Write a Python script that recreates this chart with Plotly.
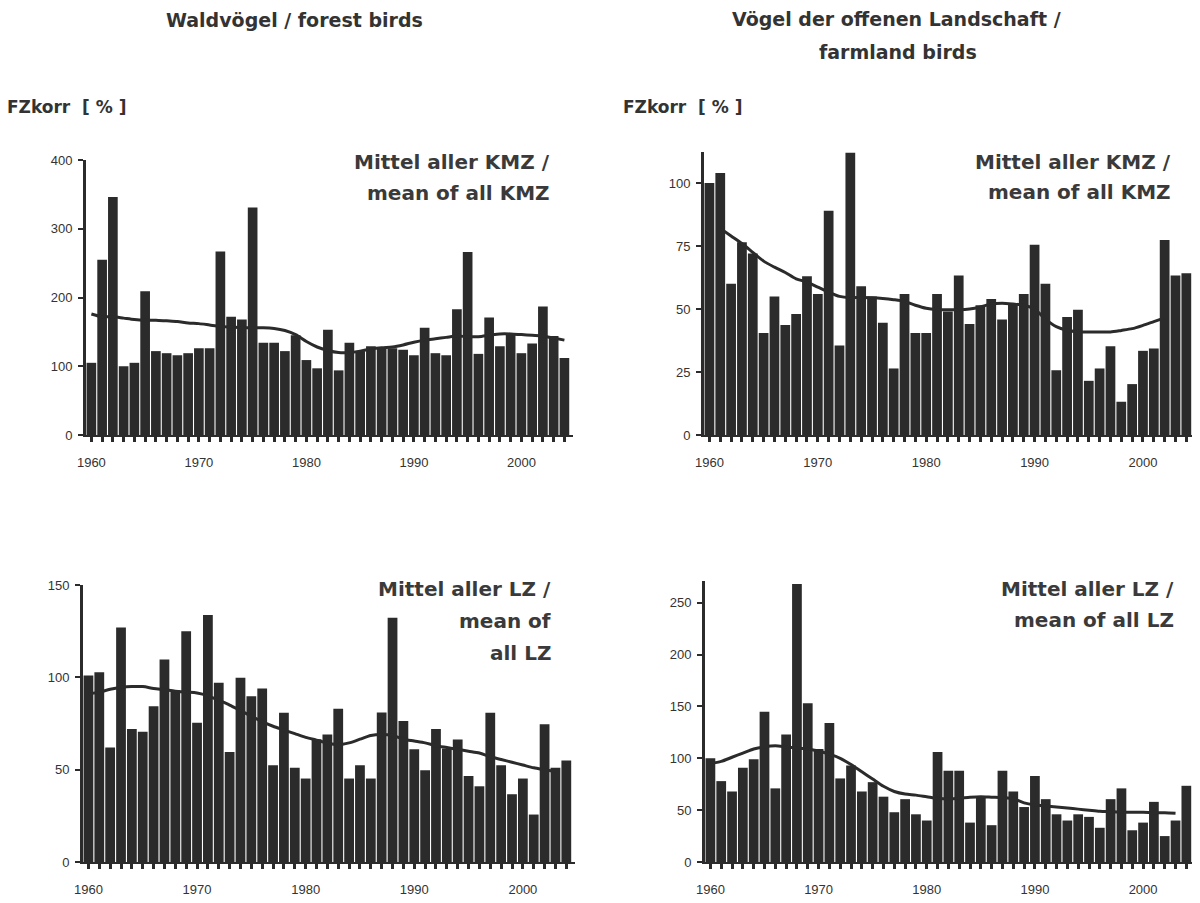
import plotly.graph_objects as go

years = list(range(1960, 2005))

# Waldvögel / forest birds – KMZ
forest_kmz = [105, 255, 346, 100, 105, 209, 122, 119, 116, 119, 126, 126, 267, 172, 168,
              331, 134, 134, 122, 145, 109, 97, 153, 94, 134, 122, 129, 126, 126, 124,
              116, 156, 119, 116, 183, 266, 118, 171, 129, 146, 119, 133, 187, 144, 112]
forest_kmz_trend_years = list(range(1960, 2005))
forest_kmz_trend = [176, 172, 172, 170, 168, 167, 167, 166, 165, 163, 162, 160, 158, 157, 156,
                    156, 156, 155, 152, 146, 136, 128, 123, 120, 120, 122, 125, 127, 128, 131,
                    135, 138, 140, 142, 144, 143, 143, 145, 147, 147, 146, 145, 144, 141, 138]

# Vögel der offenen Landschaft / farmland birds – KMZ
farm_kmz = [100, 104, 60, 76.5, 72, 40.5, 55, 43.7, 48, 63, 56, 89, 35.5, 112, 59,
            55, 44.5, 26.4, 56, 40.5, 40.5, 56, 49, 63.3, 44, 51.5, 54, 45.8, 52, 56,
            75.5, 60, 25.7, 46.8, 49.7, 21.5, 26.4, 35.2, 13.2, 20.2, 33.4, 34.3, 77.4, 63.3, 64.2]
farm_kmz_trend_years = list(range(1961, 2003))
farm_kmz_trend = [82, 79, 76, 72.5, 69, 66.6, 64.5, 62, 60.7, 58.7, 56.7, 55, 54.5, 54.6,
                  54.5, 54.2, 53.7, 53, 51.5, 50.3, 49.8, 49.7, 49.7, 50, 50.8, 52, 52.3, 52,
                  51.5, 50, 46, 43, 41.6, 41, 40.9, 40.9, 40.9, 41.5, 42.2, 43.5, 45, 46.5]

# Waldvögel – LZ
forest_lz = [101, 102.7, 62, 127, 72, 70.5, 84.4, 109.7, 93, 125, 75.4, 133.7, 97, 59.6, 99.8,
             89.8, 94, 52.4, 80.8, 51, 45.2, 66.5, 69, 83, 45.2, 52.4, 45.2, 81, 132.3, 76.4,
             61, 49.7, 72, 61.5, 66.3, 46.6, 41, 80.8, 52.4, 36.7, 45.2, 25.7, 74.6, 51, 55]
forest_lz_trend_years = list(range(1960, 2004))
forest_lz_trend = [91, 92, 93.5, 94.5, 95, 95, 94, 93.3, 92.5, 92, 91.5, 90, 87.5, 85, 82,
                   79, 76, 73.5, 71.5, 69.5, 67.5, 66, 64.5, 63.5, 64.5, 66.5, 68.5, 69, 68.5, 66.5,
                   65.5, 64.5, 63, 62, 61, 60, 59, 57, 55.5, 54, 52.5, 51, 50, 49]

# Vögel der offenen Landschaft – LZ
farm_lz = [100, 78, 68, 91, 99, 145, 71, 123, 268, 153, 109, 134, 80.6, 93, 68,
           77, 63, 48, 60.6, 46, 40, 106, 88, 88, 38, 63, 35.5, 88, 68, 53,
           83, 60.6, 46, 40, 46, 43.5, 33, 60.6, 71, 30.6, 38, 58, 25, 40, 73.5]
farm_lz_trend_years = list(range(1960, 2004))
farm_lz_trend = [95, 97, 101, 105, 109, 111, 112, 111, 110, 109, 107, 104, 100, 94, 87,
                 80, 73, 68, 65.5, 64.5, 63, 61.5, 61, 61.5, 62.5, 63, 62.5, 62, 61, 57,
                 55, 54, 53, 52, 51, 50, 49, 48.5, 48, 48, 48, 47.5, 47.5, 47]

x_ticks = [1960, 1970, 1980, 1990, 2000]
y_ticks = {
    1: [0, 100, 200, 300, 400],
    2: [0, 25, 50, 75, 100],
    3: [0, 50, 100, 150],
    4: [0, 50, 100, 150, 200, 250],
}
y_ranges = {1: [0, 400], 2: [0, 112.5], 3: [0, 150], 4: [0, 271]}

W, H = 1200, 903
OFF = 8  # page body margin: the figure starts 8 px into the window
DARK = "#2b2b2b"
TXT = "#333333"

# panel boxes in window pixels: (left, right, top, bottom)
boxes = {
    1: (86, 573, 160, 435),
    2: (704, 1195, 151.5, 435),
    3: (83, 575, 585, 862),
    4: (705, 1195, 581, 862),
}

panels = [
    (1, forest_kmz, forest_kmz_trend_years, forest_kmz_trend),
    (2, farm_kmz, farm_kmz_trend_years, farm_kmz_trend),
    (3, forest_lz, forest_lz_trend_years, forest_lz_trend),
    (4, farm_lz, farm_lz_trend_years, farm_lz_trend),
]

fig = go.Figure()
for k, vals, ty, tv in panels:
    xa = "x" if k == 1 else f"x{k}"
    ya = "y" if k == 1 else f"y{k}"
    fig.add_trace(go.Bar(x=years, y=vals, xaxis=xa, yaxis=ya,
                         marker=dict(color=DARK, line=dict(width=0)),
                         showlegend=False, hoverinfo="skip"))
    fig.add_trace(go.Scatter(x=ty, y=tv, xaxis=xa, yaxis=ya, mode="lines",
                             line=dict(color=DARK, width=3, shape="spline", smoothing=0.8),
                             showlegend=False, hoverinfo="skip"))

layout = dict(
    width=W, height=H,
    margin=dict(l=0, r=0, t=0, b=0, pad=0, autoexpand=False),
    paper_bgcolor="white", plot_bgcolor="white",
    bargap=0.1,
    font=dict(family="Liberation Sans, Arial, sans-serif", color=TXT),
)


def fx(px):
    return (px - OFF) / W


def fy(py):
    return 1 - (py - OFF) / H


tickfont = dict(family="Liberation Sans, Arial, sans-serif", size=13, color=TXT)
for k, (l, r, t, b) in boxes.items():
    xname = "xaxis" if k == 1 else f"xaxis{k}"
    yname = "yaxis" if k == 1 else f"yaxis{k}"
    ya = "y" if k == 1 else f"y{k}"
    xa = "x" if k == 1 else f"x{k}"
    layout[xname] = dict(
        domain=[fx(l), fx(r)], anchor=ya, range=[1959.5, 2004.8],
        tickmode="array", tickvals=x_ticks, ticktext=[str(v) for v in x_ticks],
        ticks="outside", ticklen=5, tickwidth=3, tickcolor=DARK,
        minor=dict(dtick=1, tick0=1960, ticks="outside", ticklen=5, tickwidth=3, tickcolor=DARK),
        showline=True, linecolor=DARK, linewidth=2,
        showgrid=False, zeroline=False, tickfont=tickfont, ticklabelstandoff=9,
        automargin=False, fixedrange=True,
    )
    layout[yname] = dict(
        domain=[fy(b), fy(t)], anchor=xa, range=y_ranges[k],
        tickmode="array", tickvals=y_ticks[k],
        ticks="outside", ticklen=5, tickwidth=2, tickcolor=DARK,
        showline=True, linecolor=DARK, linewidth=3,
        showgrid=False, zeroline=False, tickfont=tickfont, ticklabelstandoff=3,
        automargin=False, fixedrange=True,
    )

fig.update_layout(**layout)

bold = dict(family="DejaVu Sans, sans-serif", size=19, color=TXT, weight="bold")
ann_font = dict(family="DejaVu Sans, sans-serif", size=20, color="#3a3a3a", weight="bold")
label_font = dict(family="DejaVu Sans, sans-serif", size=17, color=TXT, weight="bold")


def px_ann(text, x, y, font, xanchor="center"):
    fig.add_annotation(text=text, x=fx(x), y=fy(y), xref="paper", yref="paper",
                       xanchor=xanchor, yanchor="middle", showarrow=False, font=font,
                       borderpad=0)


# titles
px_ann("Waldvögel / forest birds", 294, 20, bold)
px_ann("Vögel der offenen Landschaft /", 896, 19, bold)
px_ann("farmland birds", 898, 52, bold)
px_ann("FZkorr  [ % ]", 6, 107, label_font, "left")
px_ann("FZkorr  [ % ]", 622, 107, label_font, "left")

# panel notes
px_ann("Mittel aller KMZ /", 551, 162, ann_font, "right")
px_ann("mean of all KMZ", 551, 193, ann_font, "right")
px_ann("Mittel aller KMZ /", 1172, 162, ann_font, "right")
px_ann("mean of all KMZ", 1172, 192, ann_font, "right")
px_ann("Mittel aller LZ /", 552, 589, ann_font, "right")
px_ann("mean of", 552, 621, ann_font, "right")
px_ann("all LZ", 552, 653, ann_font, "right")
px_ann("Mittel aller LZ /", 1175, 589, ann_font, "right")
px_ann("mean of all LZ", 1175, 620, ann_font, "right")

fig.write_html("out.html")
